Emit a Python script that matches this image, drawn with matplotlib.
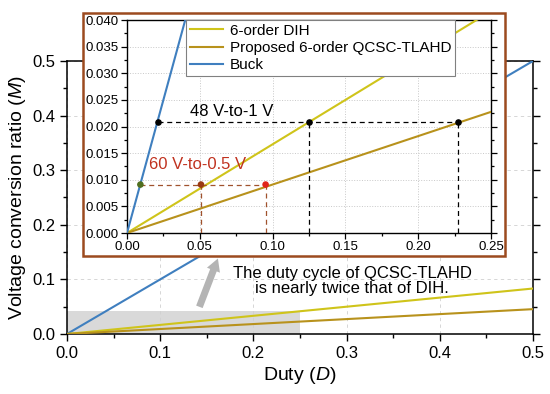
import matplotlib
matplotlib.use("Agg")
import matplotlib.pyplot as plt
from matplotlib.patches import Rectangle
from matplotlib.ticker import MultipleLocator, FormatStrFormatter

plt.rcParams['font.family'] = ['Liberation Sans', 'DejaVu Sans']
plt.rcParams['mathtext.fontset'] = 'custom'
plt.rcParams['mathtext.it'] = 'Liberation Sans:italic'
plt.rcParams['mathtext.rm'] = 'Liberation Sans'

# ---- data ----
duty = [0.0, 0.5]
m_buck = [0.0, 0.5]
m_dih = [0.0, 0.0833]
m_qcsc = [0.0, 0.0455]

labels = ['6-order DIH', 'Proposed 6-order QCSC-TLAHD', 'Buck']
colors = ['#cfc41a', '#b8921c', '#3f7fbf']

# 48 V-to-1 V operating points (Buck, DIH, QCSC)
p48_x = [0.0210, 0.125, 0.2273]
p48_y = [0.0209, 0.0209, 0.0209]
# 60 V-to-0.5 V operating points (Buck, DIH, QCSC)
p60_x = [0.0092, 0.0508, 0.0952]
p60_y = [0.0091, 0.0091, 0.0091]
p60_colors = ['#4f6e1e', '#9a3a14', '#e0241a']

zoom_x = 0.25
zoom_y = 0.042

fig = plt.figure(figsize=(5.5, 3.94), dpi=100)
ax = fig.add_axes([0.1218, 0.1523, 0.8473, 0.6929])

ax.plot(duty, m_buck, color=colors[2], lw=1.5, zorder=3)
ax.plot(duty, m_dih, color=colors[0], lw=1.5, zorder=3)
ax.plot(duty, m_qcsc, color=colors[1], lw=1.5, zorder=3)
ax.add_patch(Rectangle((0, 0), zoom_x, zoom_y, facecolor='#d9d9d9', edgecolor='none', zorder=1))

ax.set_xlim(0, 0.5)
ax.set_ylim(0, 0.5)
ax.xaxis.set_major_locator(MultipleLocator(0.1))
ax.xaxis.set_minor_locator(MultipleLocator(0.05))
ax.yaxis.set_major_locator(MultipleLocator(0.1))
ax.yaxis.set_minor_locator(MultipleLocator(0.05))
ax.xaxis.set_major_formatter(FormatStrFormatter('%.1f'))
ax.yaxis.set_major_formatter(FormatStrFormatter('%.1f'))
ax.grid(True, which='major', ls=(0, (4, 4)), color='#d0d0d0', lw=0.6, zorder=0)
ax.tick_params(which='both', direction='out', labelsize=12, width=1)
ax.tick_params(which='major', length=5)
ax.tick_params(which='minor', length=3)
ax.tick_params(which='both', right=True, top=False)
ax.tick_params(axis='y', which='both', right=True)
for s in ax.spines.values():
    s.set_linewidth(1.1)
ax.set_xlabel('Duty ($D$)', fontsize=14, labelpad=3)
ax.set_ylabel('Voltage conversion ratio ($M$)', fontsize=14, labelpad=3)

ax.text(0.306, 0.097, 'The duty cycle of QCSC-TLAHD\nis nearly twice that of DIH.',
        ha='center', va='center', fontsize=12, linespacing=1.05, zorder=5)
ax.annotate('', xy=(0.163, 0.143), xytext=(0.141, 0.045),
            arrowprops=dict(arrowstyle='simple,head_width=1.0,head_length=0.9,tail_width=0.5',
                            color='#b4b4b4', lw=0), zorder=5)

# inset frame
frame = Rectangle((0.151, 0.3503), 0.767, 0.6168, transform=fig.transFigure,
                  facecolor='white', edgecolor='#9c4a1f', lw=1.8, zorder=10)
fig.patches.append(frame)

ins = fig.add_axes([0.2309, 0.4086, 0.6618, 0.5406])
ins.set_zorder(11)
l1, = ins.plot(duty, m_dih, color=colors[0], lw=1.5, zorder=3)
l2, = ins.plot(duty, m_qcsc, color=colors[1], lw=1.5, zorder=3)
l3, = ins.plot(duty, m_buck, color=colors[2], lw=1.5, zorder=3)

# 48 V-to-1 V guides
ins.plot([p48_x[0], p48_x[2]], [p48_y[0], p48_y[2]], color='black', ls=(0, (4, 3)), lw=0.9, zorder=4)
for xx, yy in zip(p48_x[1:], p48_y[1:]):
    ins.plot([xx, xx], [0, yy], color='black', ls=(0, (4, 3)), lw=0.9, zorder=4)
ins.scatter(p48_x, p48_y, s=14, color='black', zorder=6)
ins.text(0.0433, 0.0229, '48 V-to-1 V', fontsize=12, ha='left', va='center', zorder=6)

# 60 V-to-0.5 V guides
ins.plot([p60_x[0], p60_x[2]], [p60_y[0], p60_y[2]], color='#a0522d', ls=(0, (4, 3)), lw=0.9, zorder=4)
for xx, yy in zip(p60_x[1:], p60_y[1:]):
    ins.plot([xx, xx], [0, yy], color='#a0522d', ls=(0, (4, 3)), lw=0.9, zorder=4)
ins.scatter(p60_x, p60_y, s=14, color=p60_colors, zorder=6)
ins.text(0.0151, 0.0128, '60 V-to-0.5 V', fontsize=12, color='#c0321f', ha='left', va='center', zorder=6)

ins.set_xlim(0, 0.25)
ins.set_ylim(0, 0.04)
ins.xaxis.set_major_locator(MultipleLocator(0.05))
ins.xaxis.set_minor_locator(MultipleLocator(0.025))
ins.yaxis.set_major_locator(MultipleLocator(0.005))
ins.yaxis.set_minor_locator(MultipleLocator(0.0025))
ins.xaxis.set_major_formatter(FormatStrFormatter('%.2f'))
ins.yaxis.set_major_formatter(FormatStrFormatter('%.3f'))
ins.grid(True, which='major', ls=':', color='#c8c8c8', lw=0.7, zorder=0)
ins.tick_params(which='both', direction='out', labelsize=9.5, width=0.9, pad=2)
ins.tick_params(which='major', length=4)
ins.tick_params(which='minor', length=2.5)
ins.tick_params(axis='y', which='both', right=True)
for s in ins.spines.values():
    s.set_linewidth(1.0)

leg = ins.legend([l1, l2, l3], labels, loc='upper left', bbox_to_anchor=(0.162, 1.0),
                 borderaxespad=0, fontsize=11, fancybox=False, edgecolor='#808080',
                 framealpha=1, handlelength=2.2, handletextpad=0.4, labelspacing=0.2,
                 borderpad=0.25)
leg.get_frame().set_linewidth(0.8)

fig.savefig('out.png', dpi=100)
